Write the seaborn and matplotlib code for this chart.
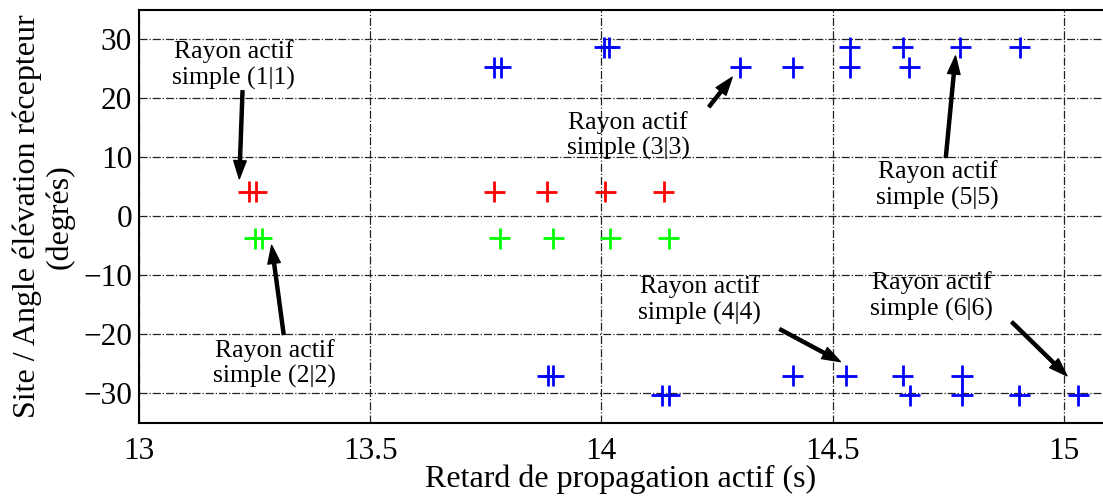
import numpy as np
import pandas as pd
import matplotlib
matplotlib.use("Agg")
import matplotlib.pyplot as plt
import seaborn as sns

# data
red_x = [13.238, 13.254, 13.768, 13.882, 14.008, 14.135]
red_y = [4.2, 4.2, 4.2, 4.2, 4.2, 4.2]
green_x = [13.250, 13.265, 13.780, 13.896, 14.019, 14.146]
green_y = [-3.7, -3.7, -3.7, -3.7, -3.7, -3.7]
blue_x = [13.768, 13.782, 14.300, 14.414, 14.537, 14.666,
          14.006, 14.017, 14.537, 14.652, 14.776, 14.905,
          13.884, 13.896, 14.414, 14.530, 14.652, 14.780,
          14.131, 14.147, 14.667, 14.780, 14.904, 15.031]
blue_y = [25.3] * 6 + [28.7] * 6 + [-27.0] * 6 + [-30.3] * 6

xticks = [13, 13.5, 14, 14.5, 15]
yticks = [-30, -20, -10, 0, 10, 20, 30]

# (label, text x, text y, arrow head x, arrow head y, arrow tail x, arrow tail y)
notes = [
    ("Rayon actif\nsimple (1|1)", 13.205, 25.7, 13.217, 6.4, 13.224, 21.3),
    ("Rayon actif\nsimple (2|2)", 13.294, -24.9, 13.287, -4.9, 13.313, -20.0),
    ("Rayon actif\nsimple (3|3)", 14.058, 13.7, 14.283, 23.6, 14.233, 18.6),
    ("Rayon actif\nsimple (4|4)", 14.213, -14.2, 14.517, -24.6, 14.386, -19.1),
    ("Rayon actif\nsimple (5|5)", 14.727, 5.3, 14.766, 27.2, 14.745, 10.0),
    ("Rayon actif\nsimple (6|6)", 14.715, -13.5, 15.007, -27.0, 14.888, -17.9),
]

df = pd.DataFrame({
    "x": red_x + green_x + blue_x,
    "y": red_y + green_y + blue_y,
    "g": ["r"] * len(red_x) + ["g"] * len(green_x) + ["b"] * len(blue_x),
})

sns.set_style("white")
plt.rcParams["font.family"] = ["Liberation Serif", "DejaVu Serif"]
plt.rcParams["text.color"] = "black"
plt.rcParams["axes.labelcolor"] = "black"
plt.rcParams["xtick.color"] = "black"
plt.rcParams["ytick.color"] = "black"

fig = plt.figure(figsize=(11.03, 4.98), dpi=100)
ax = fig.add_axes([0.126, 0.1506, 0.874, 0.8294])

sns.scatterplot(data=df, x="x", y="y", hue="g", marker="+", s=230, linewidth=2,
                palette={"r": "#ff0000", "g": "#00ff00", "b": "#0000ff"},
                legend=False, ax=ax, zorder=3)

for label, tx, ty, hx, hy, sx, sy in notes:
    ax.annotate("", xy=(hx, hy), xytext=(sx, sy),
                arrowprops=dict(facecolor="black", edgecolor="black", width=2.2,
                                headwidth=9, headlength=13, shrink=0), zorder=4)
    ax.text(tx, ty, label, ha="center", va="center", fontsize=18.5,
            linespacing=1.2, color="black", zorder=2)

ax.set_xlim(13, 15.085)
ax.set_ylim(-35, 35)
ax.set_xticks(xticks)
ax.set_xticklabels(["13", "13.5", "14", "14.5", "15"])
ax.set_yticks(yticks)
ax.grid(True, linestyle="-.", color="#222222", linewidth=0.9)
ax.tick_params(labelsize=22.5, direction="in", length=4, width=1)
ax.tick_params(axis="x", pad=10)
ax.tick_params(axis="y", pad=5)
for side in ["left", "bottom", "top"]:
    ax.spines[side].set_color("black")
    ax.spines[side].set_linewidth(1.5)
ax.spines["right"].set_visible(False)

ax.set_xlabel("Retard de propagation actif (s)", fontsize=23, labelpad=-1)
ax.set_ylabel("Site / Angle élévation récepteur\n(degrés)", fontsize=23,
              linespacing=1.15, labelpad=6)

fig.savefig("out.png", dpi=100)
